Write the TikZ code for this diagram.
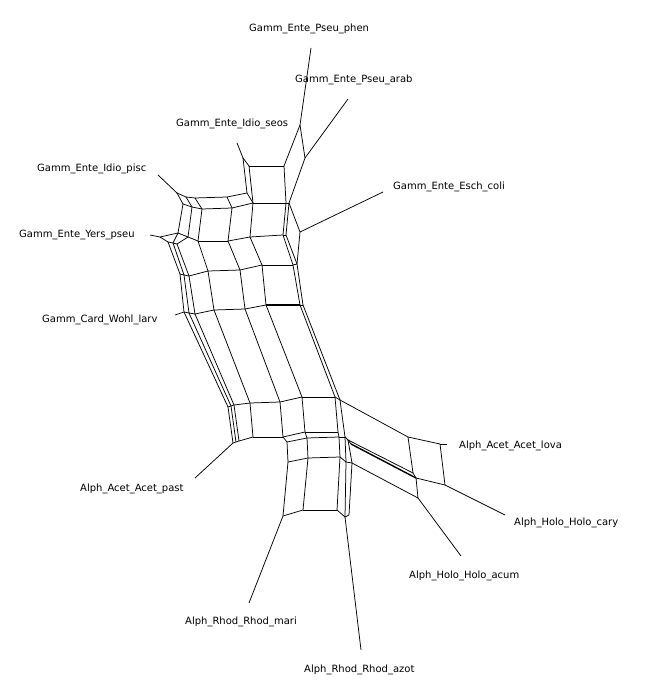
\documentclass[tikz,border=0pt]{standalone}
\usepackage{fontspec}
\setmainfont{DejaVu Sans}
\usetikzlibrary{positioning}

\begin{document}
\begin{tikzpicture}[x=1pt,y=-1pt,
  every node/.style={font=\fontsize{10}{12}\selectfont,inner sep=0pt},
  net/.style={line width=0.75pt,line join=round},
  heavy/.style={line width=1.4pt},
  taxon/.style={anchor=west}]
  \path[use as bounding box] (0,0) rectangle (652,700);
  % Leaf tips.
  \coordinate (tphen) at (311,48);
  \coordinate (tarab) at (348,99);
  \coordinate (tseos) at (237,143);
  \coordinate (tpisc) at (158,175);
  \coordinate (tyers) at (150,235);
  \coordinate (twohl) at (175,315);
  \coordinate (tpast) at (195,478);
  \coordinate (tmari) at (249,603);
  \coordinate (tazot) at (361,650);
  \coordinate (tacum) at (461,556);
  \coordinate (tcary) at (505,515);
  \coordinate (tlova) at (447,444);
  \coordinate (tesch) at (383,192);
  % Top of the network.
  \coordinate (vphen) at (300,125);
  \coordinate (varab) at (305,158);
  \coordinate (vseos) at (243,158);
  \coordinate (T1) at (249,166);
  \coordinate (T2) at (284,166);
  \coordinate (vesch) at (300,232);
  % First row.
  \coordinate (p0) at (177,193);
  \coordinate (p1) at (186,197);
  \coordinate (p2) at (183,204);
  \coordinate (p3) at (192,207);
  \coordinate (a1) at (195,198);
  \coordinate (a2) at (227,197);
  \coordinate (a3) at (247,193);
  \coordinate (b1) at (202,209);
  \coordinate (b2) at (232,208);
  \coordinate (b3) at (253,203);
  \coordinate (b4) at (286,203);
  \coordinate (b5) at (289,203);
  % Second row.
  \coordinate (y1) at (160,237);
  \coordinate (y2) at (178,233);
  \coordinate (y3) at (188,237);
  \coordinate (y4) at (168,242);
  \coordinate (y5) at (173,243);
  \coordinate (y6) at (177,244);
  \coordinate (c1) at (198,241);
  \coordinate (c2) at (228,241);
  \coordinate (c3) at (250,237);
  \coordinate (c4) at (283,235);
  \coordinate (c5) at (286,235);
  % Third row.
  \coordinate (r1) at (180,274);
  \coordinate (r2) at (184,275);
  \coordinate (r3) at (189,276);
  \coordinate (d2) at (208,271);
  \coordinate (d3) at (240,270);
  \coordinate (d4) at (262,265);
  \coordinate (d5) at (293,265);
  \coordinate (d6) at (297,264);
  % Fourth row.
  \coordinate (g0) at (184,312);
  \coordinate (g1) at (189,313);
  \coordinate (g2) at (195,314);
  \coordinate (g3) at (214,310);
  \coordinate (g4) at (245,309);
  \coordinate (g5) at (266,305);
  \coordinate (g6) at (300,305);
  \coordinate (g7) at (303,305);
  % Fifth row.
  \coordinate (h0) at (228,407);
  \coordinate (h1) at (231,406);
  \coordinate (h2) at (234,405);
  \coordinate (h3) at (250,403);
  \coordinate (h4) at (280,402);
  \coordinate (h5) at (302,397);
  \coordinate (h6) at (335,397);
  \coordinate (h7) at (340,400);
  % Sixth row.
  \coordinate (k0) at (233,443);
  \coordinate (k1) at (236,442);
  \coordinate (k2) at (239,441);
  \coordinate (k3) at (253,437);
  \coordinate (k4) at (283,437);
  \coordinate (k5) at (305,432);
  \coordinate (k6) at (338,432);
  % Lower block.
  \coordinate (m1) at (287,442);
  \coordinate (m2) at (307,438);
  \coordinate (m3) at (339,437);
  \coordinate (u1) at (345,437);
  \coordinate (u2) at (348,440);
  \coordinate (u3) at (351,444);
  \coordinate (n1) at (288,462);
  \coordinate (n2) at (308,458);
  \coordinate (n3) at (340,457);
  \coordinate (u4) at (346,462);
  \coordinate (u5) at (352,463);
  \coordinate (q1) at (283,516);
  \coordinate (q2) at (303,510);
  \coordinate (q3) at (337,510);
  \coordinate (q4) at (345,517);
  \coordinate (u6) at (349,515);
  % Side branch.
  \coordinate (lv1) at (408,437);
  \coordinate (lv2) at (440,444);
  \coordinate (lv3) at (413,473);
  \coordinate (lv5) at (416,478);
  \coordinate (lv4) at (445,485);
  \coordinate (lv6) at (418,498);

  % Leaf edges.
  \foreach \s/\t in {tphen/vphen,tarab/varab,tseos/vseos,tpisc/p0,tyers/y1,
      twohl/g0,tpast/k0,tmari/q1,tazot/q4,tacum/lv6,tcary/lv4,tlova/lv2,tesch/vesch}
    \draw[net] (\s) -- (\t);
  % Top part.
  \foreach \s/\t in {vphen/T2,vphen/varab,vseos/T1,T1/T2,vseos/a3,T1/b3,T2/b4,
      varab/b5,b5/vesch,vesch/d6}
    \draw[net] (\s) -- (\t);
  % Rows.
  \foreach \s/\t in {p0/p1,p0/p2,p1/a1,a1/a2,a2/a3,p1/p3,p2/p3,p3/b1,b1/b2,b2/b3,
      b3/b4,b4/b5,a1/b1,a2/b2,a3/b3,
      y1/y2,y2/y3,y3/c1,c1/c2,c2/c3,c3/c4,c4/c5,y1/y4,y4/y5,y5/y6,y2/y5,y3/y6,
      r1/r2,r2/r3,r3/d2,d2/d3,d3/d4,d4/d5,d5/d6,
      g0/g1,g1/g2,g2/g3,g3/g4,g4/g5,g6/g7,
      h0/h1,h1/h2,h2/h3,h3/h4,h4/h5,h5/h6,h6/h7,
      k0/k1,k1/k2,k2/k3,k3/k4,k4/k5,k5/k6}
    \draw[net] (\s) -- (\t);
  % Columns between the rows.
  \foreach \s/\t in {p2/y2,p3/y3,b1/c1,b2/c2,b3/c3,b4/c4,b5/c5,
      y4/r1,y5/r2,y6/r3,c1/d2,c2/d3,c3/d4,c4/d5,c5/d6,
      r1/g0,r2/g1,r3/g2,d2/g3,d3/g4,d4/g5,d5/g6,d6/g7,
      g0/h0,g1/h1,g2/h2,g3/h3,g4/h4,g5/h5,g6/h6,g7/h7,
      h0/k0,h1/k1,h2/k2,h3/k3,h4/k4,h5/k5,h6/k6,h7/u1}
    \draw[net] (\s) -- (\t);
  % Lower block.
  \foreach \s/\t in {k4/m1,k5/m2,k6/m3,m1/m2,m2/m3,m3/u1,u1/u2,u2/u3,
      m1/n1,m2/n2,m3/n3,u1/u4,u2/u5,n1/n2,n2/n3,n3/u4,u4/u5,
      n1/q1,n2/q2,n3/q3,u4/q4,u5/u6,q1/q2,q2/q3,q3/q4,q4/u6}
    \draw[net] (\s) -- (\t);
  % Side branch.
  \foreach \s/\t in {h7/lv1,lv1/lv2,lv1/lv3,lv2/lv4,u2/lv3,lv3/lv5,lv5/lv4,
      lv5/lv6,u5/lv6}
    \draw[net] (\s) -- (\t);
  \draw[net,heavy] (g5) -- (g6);
  \draw[net,heavy] (u3) -- (lv5);

  % Taxon labels.
  \node[taxon] (lphen) at (249,29) {Gamm\_Ente\_Pseu\_phen};
  \node[taxon] (larab) at (295,80) {Gamm\_Ente\_Pseu\_arab};
  \node[taxon] (lseos) at (176,124) {Gamm\_Ente\_Idio\_seos};
  \node[taxon] (lpisc) at (37,169) {Gamm\_Ente\_Idio\_pisc};
  \node[taxon] (lyers) at (19,235) {Gamm\_Ente\_Yers\_pseu};
  \node[taxon] (lwohl) at (42,320) {Gamm\_Card\_Wohl\_larv};
  \node[taxon] (lesch) at (393,187) {Gamm\_Ente\_Esch\_coli};
  \node[taxon] (llova) at (459,446) {Alph\_Acet\_Acet\_lova};
  \node[taxon] (lcary) at (514,523) {Alph\_Holo\_Holo\_cary};
  \node[taxon] (lacum) at (409,576) {Alph\_Holo\_Holo\_acum};
  \node[taxon] (lazot) at (304,670) {Alph\_Rhod\_Rhod\_azot};
  \node[taxon] (lmari) at (185,622) {Alph\_Rhod\_Rhod\_mari};
  \node[taxon] (lpast) at (80,489) {Alph\_Acet\_Acet\_past};
\end{tikzpicture}
\end{document}
